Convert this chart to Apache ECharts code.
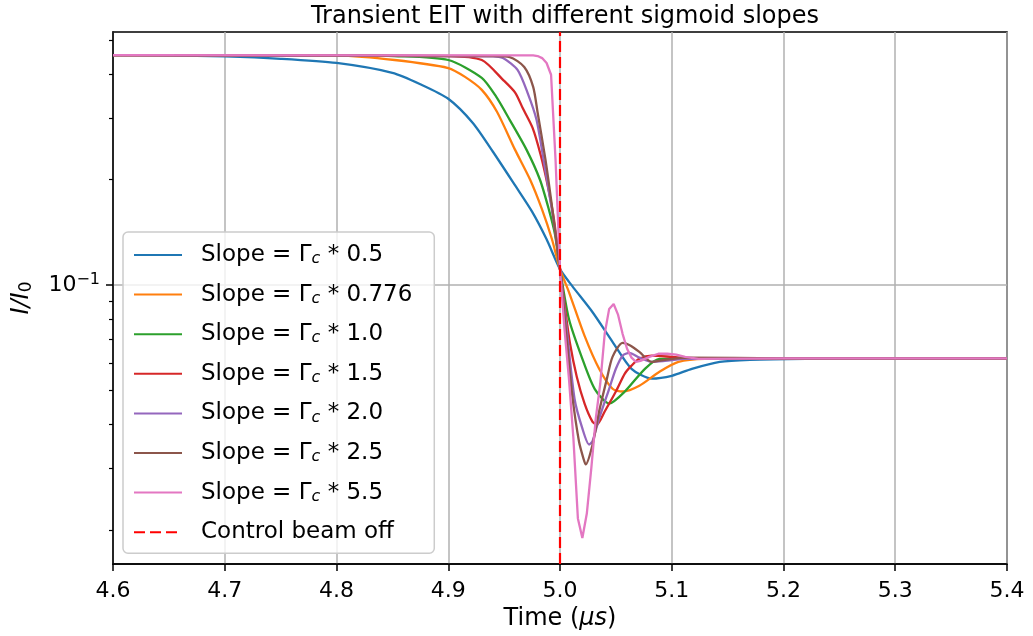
<!DOCTYPE html>
<html>
<head>
<meta charset="utf-8">
<script src="https://cdn.jsdelivr.net/npm/echarts@6/dist/echarts.min.js"></script>
<style>
  html, body { margin: 0; padding: 0; background: #ffffff; }
  #chart { width: 1033px; height: 636px; }
</style>
</head>
<body>
<div id="chart"></div>
<script>
// Transmission I/I0 after the control beam is switched off at t = 5.0 us,
// for several sigmoid switch-off slopes (in units of Gamma_c).
const slopeFactors = ['0.5', '0.776', '1.0', '1.5', '2.0', '2.5', '5.5'];
const lineColors = ['#1f77b4', '#ff7f0e', '#2ca02c', '#d62728', '#9467bd', '#8c564b', '#e377c2'];

const tSlope05 = [4.60, 4.65, 4.70, 4.75, 4.80, 4.85, 4.875, 4.90, 4.922, 4.940, 4.960, 4.975, 4.988, 5.000, 5.011, 5.029, 5.047, 5.064, 5.082, 5.100, 5.118, 5.143, 5.170, 5.220, 5.300, 5.400];
const vSlope05 = [0.453, 0.452, 0.449, 0.442, 0.430, 0.403, 0.374, 0.340, 0.290, 0.240, 0.192, 0.162, 0.1351, 0.111, 0.0993, 0.0838, 0.0689, 0.0577, 0.0541, 0.0551, 0.0577, 0.0604, 0.0612, 0.0616, 0.0618, 0.0618];

const tSlope0776 = [4.60, 4.75, 4.80, 4.852, 4.900, 4.915, 4.930, 4.9436, 4.9597, 4.9732, 4.9839, 4.9928, 5.000, 5.008, 5.022, 5.035, 5.047, 5.056, 5.071, 5.089, 5.106, 5.130, 5.200, 5.400];
const vSlope0776 = [0.453, 0.453, 0.452, 0.4385, 0.416, 0.3925, 0.3604, 0.3121, 0.2434, 0.200, 0.1644, 0.1351, 0.111, 0.0955, 0.0716, 0.0577, 0.0506, 0.0497, 0.0516, 0.0566, 0.0604, 0.0616, 0.0618, 0.0618];

const tSlope10 = [4.60, 4.80, 4.852, 4.900, 4.930, 4.943, 4.955, 4.970, 4.982, 4.990, 4.9955, 5.000, 5.008, 5.020, 5.031, 5.044, 5.058, 5.076, 5.089, 5.112, 5.200, 5.400];
const vSlope10 = [0.453, 0.453, 0.450, 0.4385, 0.390, 0.344, 0.296, 0.2434, 0.200, 0.1644, 0.1396, 0.111, 0.0800, 0.0616, 0.0506, 0.0459, 0.0497, 0.0577, 0.0616, 0.0616, 0.0618, 0.0618];

const tSlope15 = [4.60, 4.90, 4.930, 4.949, 4.960, 4.9665, 4.9754, 4.9826, 4.9888, 4.9946, 5.000, 5.004, 5.009, 5.015, 5.022, 5.029, 5.033, 5.040, 5.050, 5.058, 5.064, 5.071, 5.082, 5.100, 5.127, 5.200, 5.400];
const vSlope15 = [0.453, 0.450, 0.4385, 0.385, 0.3535, 0.3203, 0.2812, 0.2356, 0.1936, 0.154, 0.111, 0.0883, 0.0680, 0.0548, 0.0459, 0.0408, 0.0400, 0.0436, 0.0497, 0.0559, 0.0589, 0.0616, 0.0629, 0.0624, 0.0616, 0.0618, 0.0618];

const tSlope20 = [4.60, 4.940, 4.949, 4.962, 4.971, 4.979, 4.986, 4.992, 4.996, 5.000, 5.006, 5.013, 5.020, 5.026, 5.029, 5.035, 5.044, 5.050, 5.056, 5.062, 5.071, 5.082, 5.094, 5.112, 5.200, 5.400];
const vSlope20 = [0.453, 0.449, 0.444, 0.411, 0.3535, 0.296, 0.2207, 0.1698, 0.1396, 0.111, 0.0750, 0.0474, 0.0390, 0.0351, 0.0358, 0.0416, 0.0506, 0.0577, 0.0629, 0.0641, 0.0621, 0.0604, 0.0608, 0.0616, 0.0618, 0.0618];

const tSlope25 = [4.60, 4.940, 4.955, 4.968, 4.976, 4.980, 4.987, 4.992, 4.996, 5.000, 5.006, 5.011, 5.017, 5.021, 5.023, 5.029, 5.035, 5.042, 5.047, 5.056, 5.062, 5.071, 5.082, 5.094, 5.112, 5.200, 5.400];
const vSlope25 = [0.453, 0.450, 0.447, 0.419, 0.3676, 0.310, 0.228, 0.1755, 0.1396, 0.111, 0.0703, 0.0484, 0.0358, 0.0320, 0.0308, 0.0349, 0.0436, 0.0541, 0.0624, 0.0684, 0.0675, 0.0645, 0.0604, 0.0612, 0.0621, 0.0618, 0.0618];

const tSlope55 = [4.60, 4.976, 4.980, 4.984, 4.988, 4.992, 4.996, 5.000, 5.004, 5.008, 5.012, 5.016, 5.020, 5.024, 5.028, 5.032, 5.036, 5.040, 5.044, 5.048, 5.052, 5.056, 5.060, 5.064, 5.068, 5.072, 5.080, 5.088, 5.096, 5.104, 5.112, 5.124, 5.200, 5.400];
const vSlope55 = [0.453, 0.452, 0.450, 0.444, 0.430, 0.398, 0.228, 0.111, 0.0750, 0.0541, 0.0365, 0.0216, 0.0190, 0.0223, 0.0300, 0.0416, 0.0523, 0.0726, 0.0855, 0.0883, 0.0822, 0.0726, 0.0658, 0.0621, 0.0604, 0.0608, 0.0624, 0.0637, 0.0637, 0.0633, 0.0624, 0.0616, 0.0618, 0.0618];

const controlOffTime = 5.0;
const yMin = 0.016;
const yMax = 0.527;
const xMin = 4.6;
const xMax = 5.4;
const xStep = 0.1;
const yMajorTicks = [0.1];
const yMinorTicks = [0.02, 0.03, 0.04, 0.05, 0.06, 0.07, 0.08, 0.09, 0.2, 0.3, 0.4, 0.5];

const curveTimes = [tSlope05, tSlope0776, tSlope10, tSlope15, tSlope20, tSlope25, tSlope55];
const curveValues = [vSlope05, vSlope0776, vSlope10, vSlope15, vSlope20, vSlope25, vSlope55];

const FONT = 'DejaVu Sans';

const series = slopeFactors.map((f, i) => ({
  type: 'line',
  name: 'Slope = Γc * ' + f,
  data: curveTimes[i].map((t, j) => [t, curveValues[i][j]]),
  symbol: 'none',
  showSymbol: false,
  smooth: i < 6 ? 0.25 : false,
  lineStyle: { color: lineColors[i], width: 2.3 },
  itemStyle: { color: lineColors[i] },
  z: 2 + i,
  animation: false
}));

series.push({
  type: 'line',
  name: 'Control beam off',
  data: [[controlOffTime, yMin], [controlOffTime, yMax]],
  symbol: 'none',
  showSymbol: false,
  lineStyle: { color: '#ff0000', width: 2.2, type: [11, 5] },
  itemStyle: { color: '#ff0000' },
  z: 20,
  animation: false
});

const chart = echarts.init(document.getElementById('chart'), null, { renderer: 'canvas' });

chart.setOption({
  animation: false,
  backgroundColor: '#ffffff',
  title: {
    text: 'Transient EIT with different sigmoid slopes',
    left: 560,
    textAlign: 'center',
    top: 0,
    textStyle: { fontFamily: FONT, fontSize: 24, fontWeight: 'normal', color: '#000000' }
  },
  grid: {
    left: 113, right: 26, top: 32, bottom: 70,
    show: true, borderColor: '#000000', borderWidth: 1.5, backgroundColor: 'transparent'
  },
  legend: {
    orient: 'vertical',
    left: 123,
    top: 232,
    padding: [9, 22, 7, 10],
    itemWidth: 48,
    itemHeight: 14,
    itemGap: 11.6,
    backgroundColor: 'rgba(255,255,255,0.8)',
    borderColor: '#cccccc',
    borderWidth: 1.5,
    borderRadius: 5,
    itemStyle: { color: 'rgba(0,0,0,0)', borderWidth: 0, opacity: 0 },
    data: series.map(s => s.name),
    formatter: name => name.replace('Γc', 'Γ{sub|c}'),
    textStyle: {
      fontFamily: FONT, fontSize: 23, color: '#000000', lineHeight: 28,
      padding: [0, 0, 0, 14],
      rich: {
        sub: { fontFamily: FONT, fontSize: 16, fontStyle: 'italic', color: '#000000', lineHeight: 28, padding: [8, 0, 0, 0] }
      }
    }
  },
  xAxis: {
    type: 'value',
    min: xMin,
    max: xMax,
    interval: xStep,
    name: 'Time ({it|μs})',
    nameLocation: 'middle',
    nameGap: 40,
    nameTextStyle: {
      fontFamily: FONT, fontSize: 24, color: '#000000', verticalAlign: 'top',
      rich: { it: { fontFamily: FONT, fontSize: 24, fontStyle: 'italic', color: '#000000' } }
    },
    axisLine: { show: true, lineStyle: { color: '#000000', width: 1.5 } },
    axisTick: { show: true, inside: false, length: 7, lineStyle: { color: '#000000', width: 1.5 } },
    axisLabel: {
      margin: 16, fontFamily: FONT, fontSize: 22, color: '#000000',
      formatter: v => v.toFixed(1)
    },
    splitLine: { show: true, lineStyle: { color: '#b0b0b0', width: 1.5 } }
  },
  yAxis: [
    {
      type: 'log',
      min: yMin,
      max: yMax,
      name: '{i|I/I}{sub|0}',
      nameLocation: 'middle',
      nameGap: 78,
      nameRotate: 90,
      nameTextStyle: {
        fontFamily: FONT, fontSize: 24, color: '#000000',
        rich: {
          i: { fontFamily: FONT, fontSize: 24, fontStyle: 'italic', color: '#000000' },
          sub: { fontFamily: FONT, fontSize: 17, color: '#000000', padding: [9, 0, 0, 0] }
        }
      },
      axisLine: { show: true, lineStyle: { color: '#000000', width: 1.5 } },
      axisTick: { show: true, inside: false, length: 7, customValues: yMajorTicks, lineStyle: { color: '#000000', width: 1.5 } },
      axisLabel: {
        margin: 13,
        customValues: yMajorTicks,
        fontFamily: FONT, fontSize: 22, color: '#000000',
        formatter: () => '{b|10}{sup|−1}',
        rich: {
          b: { fontFamily: FONT, fontSize: 22, color: '#000000' },
          sup: { fontFamily: FONT, fontSize: 16, color: '#000000', padding: [0, 0, 11, 0] }
        }
      },
      splitLine: { show: true, lineStyle: { color: '#b0b0b0', width: 1.5 } }
    },
    {
      type: 'log',
      min: yMin,
      max: yMax,
      position: 'left',
      axisLine: { show: false },
      axisTick: { show: true, inside: false, length: 4, customValues: yMinorTicks, lineStyle: { color: '#000000', width: 1.2 } },
      axisLabel: { show: false },
      splitLine: { show: false }
    }
  ],
  series: series
});
</script>
</body>
</html>
